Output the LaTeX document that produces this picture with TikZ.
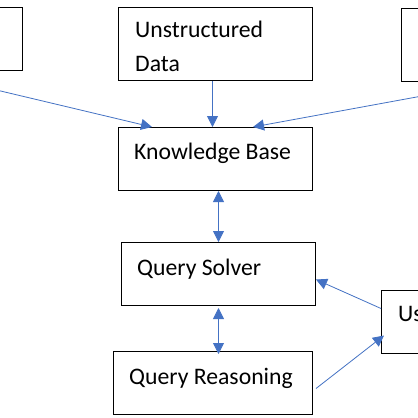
\documentclass[tikz,border=0pt]{standalone}
\usepackage{fontspec}
\setmainfont{Carlito}
\usetikzlibrary{arrows.meta,calc}
\definecolor{arrblue}{RGB}{68,114,196}
\tikzset{
  box/.style={draw=black, line width=1pt, rectangle, anchor=north west, inner sep=0pt, minimum width=#1},
  lbl/.style={anchor=base west, inner sep=0pt, font=\fontsize{23.7}{34}\selectfont, align=left},
  arr/.style={draw=arrblue, line width=0.8pt, -{Triangle[length=11pt,width=11pt]}},
  darr/.style={draw=arrblue, line width=0.8pt, {Triangle[length=11pt,width=11pt]}-{Triangle[length=11pt,width=11pt]}}
}
\begin{document}
\begin{tikzpicture}[x=1pt,y=-1pt]
\useasboundingbox (0,0) rectangle (418,418);
\clip (0,0) rectangle (418,418);
\fill[white] (0,0) rectangle (418,418);
% boxes
\node[box=192pt, minimum height=63pt] (left) at (-170,7) {};
\node[box=194pt, minimum height=73pt] (un) at (118,7) {};
\node[box=194pt, minimum height=73pt] (right) at (401,8) {};
\node[box=194pt, minimum height=63pt] (kb) at (118,127) {};
\node[box=194pt, minimum height=63pt] (qs) at (121,242) {};
\node[box=199pt, minimum height=63pt] (qr) at (113,351) {};
\node[box=194pt, minimum height=63pt] (user) at (381,290) {};
% labels
\node[lbl] (unt) at ($(un.north west)+(17,64)$) {Unstructured\\Data};
\node[lbl] (kbt) at ($(kb.north west)+(16,32)$) {Knowledge Base};
\node[lbl] (qst) at ($(qs.north west)+(16,33)$) {Query Solver};
\node[lbl] (qrt) at ($(qr.north west)+(16,33)$) {Query Reasoning};
\node[lbl] (usert) at ($(user.north west)+(17,31)$) {User};
% connectors
\draw[arr] ($(left.south)+(-10,0)$) -- ($(kb.north west)+(34,0)$);
\draw[arr] ($(un.south)+(-3,0)$) -- ($(kb.north)+(-3,0)$);
\draw[arr] (right.south) -- ($(kb.north west)+(135,0)$);
\draw[darr] ($(kb.south)+(3,0)$) -- (qs.north);
\draw[darr] ($(qs.south)+(0,2)$) -- ($(qs.south |- qr.north)+(0,3)$);
\draw[arr] ($(user.west)+(0,-13.5)$) -- ($(qs.east)+(0,5.5)$);
\draw[arr] ($(qr.east)+(3,5.5)$) -- ($(user.west)+(3,13.5)$);
\end{tikzpicture}
\end{document}
